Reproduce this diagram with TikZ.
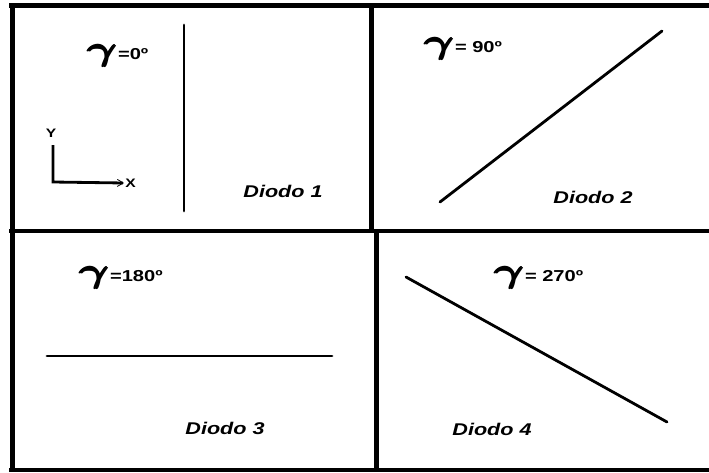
\documentclass[tikz,border=0pt]{standalone}
\usepackage{fontspec}
\usepackage{amsmath}
\usepackage{bm}
\usetikzlibrary{arrows.meta}
\newfontfamily\lab[FakeStretch=1.27]{Liberation Sans}
\newcommand{\gam}{\raisebox{-1.2pt}{\scalebox{2.7}[2.0]{$\pmb{\bm{\gamma}}$}}}

\begin{document}
\begin{tikzpicture}[
  x=0.03cm, y=-0.03cm,
  frame/.style={line width=5.1pt},
  thinframe/.style={line width=3.4pt},
  diodo/.style={line width=2.4pt, line cap=round},
  axis/.style={line width=2.4pt},
  ang/.style={anchor=base west, inner sep=0pt, font=\lab\bfseries\fontsize{13.5}{13.5}\selectfont},
  nombre/.style={inner sep=0pt, font=\lab\bfseries\itshape\fontsize{14.5}{14.5}\selectfont},
  eje/.style={inner sep=1pt, font=\lab\bfseries\fontsize{10.5}{10.5}\selectfont}
]
  \useasboundingbox (0,0) rectangle (709,472);
  % marco
  \draw[frame] (12.5,3) -- (12.5,472);
  \draw[frame] (9,5.5) -- (709,5.5);
  \draw[thinframe] (9,231) -- (709,231);
  \draw[thinframe] (9,470) -- (709,470);
  \draw[frame] (371.5,3) -- (371.5,233);
  \draw[frame] (376.5,229) -- (376.5,472);

  % diodo 1
  \node[ang] (a1) at (88,59) {\gam=0º};
  \draw[diodo] (184,25) -- (184,211);
  \node[nombre] (d1) at (283,191) {Diodo 1};
  \node[eje] (ey) at (51,133) {Y};
  \node[eje, anchor=west] (ex) at (124,183) {X};
  \coordinate (o) at (53,182);
  \draw[axis, -{Straight Barb[line width=0.7pt, length=5pt, width=6pt]}] (53,145) -- (o) -- (ex.west);

  % diodo 2
  \node[ang] (a2) at (425,52) {\gam= 90º};
  \draw[diodo] (440,202) -- (662,31);
  \node[nombre] (d2) at (593,197) {Diodo 2};

  % diodo 3
  \node[ang] (a3) at (80,281) {\gam=180º};
  \draw[diodo] (47,356) -- (332,356);
  \node[nombre] (d3) at (225,428) {Diodo 3};

  % diodo 4
  \node[ang] (a4) at (495,281) {\gam= 270º};
  \draw[diodo] (406,277) -- (667,422);
  \node[nombre] (d4) at (492,429) {Diodo 4};
\end{tikzpicture}
\end{document}
